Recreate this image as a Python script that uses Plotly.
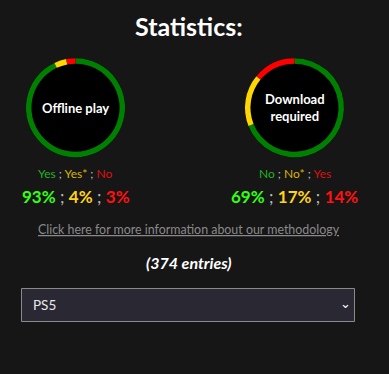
import plotly.graph_objects as go

title_text = "Statistics:"
charts = ["Offline play", "Download<br>required"]
labels_left = ["Yes", "Yes*", "No"]
labels_right = ["No", "No*", "Yes"]
values_left = [93, 4, 3]
values_right = [69, 17, 14]
entries = 374
platform = "PS5"

ring_colors = ["#008000", "#FFD700", "#FF0000"]
label_colors = ["#22b422", "#d9b400", "#dd1111"]
pct_colors = ["#33ff11", "#ffd21a", "#ff1111"]
FONT = "Lato"
W, H = 389, 374
CX = 188.5

fig = go.Figure()

def px_dom(cx, cy, r):
    return dict(x=[(cx - r) / W, (cx + r) / W], y=[1 - (cy + r) / H, 1 - (cy - r) / H])

centers = [(75.5, 107.7), (294.5, 107.7)]
R = 49.5
for (cx, cy), vals in zip(centers, [values_left, values_right]):
    dom = px_dom(cx, cy, R)
    fig.add_trace(go.Pie(values=[1], marker=dict(colors=["#000000"], line=dict(width=0)),
                         domain=dom, textinfo="none", hoverinfo="skip", showlegend=False, sort=False))
    fig.add_trace(go.Pie(values=vals, marker=dict(colors=ring_colors, line=dict(width=0)),
                         hole=0.89, domain=dom, textinfo="none", direction="clockwise",
                         rotation=0, sort=False, showlegend=False))

ann = []
ann.append(dict(x=CX / W, y=1 - 26 / H, text="<b>" + title_text + "</b>", font=dict(size=25, color="white", family=FONT)))
for (cx, cy), name in zip(centers, charts):
    ann.append(dict(x=cx / W, y=1 - cy / H, text="<b>" + name + "</b>", font=dict(size=13, color="white", family=FONT)))

sep = "<span style='color:#bbbbbb'> ; </span>"
for (cx, cy), labs, vals in zip(centers, [labels_left, labels_right], [values_left, values_right]):
    t1 = sep.join(f"<span style='color:{c}'>{l}</span>" for l, c in zip(labs, label_colors))
    ann.append(dict(x=cx / W, y=1 - 173 / H, text=t1, font=dict(size=12, family=FONT)))
    t2 = sep.join(f"<span style='color:{c}'><b>{v}%</b></span>" for v, c in zip(vals, pct_colors))
    ann.append(dict(x=cx / W, y=1 - 196 / H, text=t2, font=dict(size=17, family=FONT)))

ann.append(dict(x=CX / W, y=1 - 229 / H, text="<u>Click here for more information about our methodology</u>",
                font=dict(size=12.4, color="#8a8a8a", family=FONT)))
ann.append(dict(x=CX / W, y=1 - 262 / H, text=f"<b><i>({entries} entries)</i></b>",
                font=dict(size=16, color="white", family=FONT)))
ann.append(dict(x=31 / W, y=1 - 305 / H, xanchor="left", text=platform,
                font=dict(size=13.5, color="#e8e8e8", family=FONT)))
ann.append(dict(x=345 / W, y=1 - 303 / H, text="⌄", font=dict(size=13, color="white", family="DejaVu Sans")))

for a in ann:
    a.setdefault("xanchor", "center")
    a.update(xref="paper", yref="paper", showarrow=False, yanchor="middle")

fig.update_layout(
    width=W, height=H, margin=dict(l=0, r=0, t=0, b=0),
    paper_bgcolor="#161616", plot_bgcolor="#161616",
    annotations=ann,
    shapes=[dict(type="rect", xref="paper", yref="paper", x0=21.5 / W, x1=354.5 / W,
                 y0=1 - 321.5 / H, y1=1 - 288.5 / H, fillcolor="#2a2833",
                 line=dict(color="#8a8a8a", width=1), layer="below")],
)

fig.write_html("out.html")
